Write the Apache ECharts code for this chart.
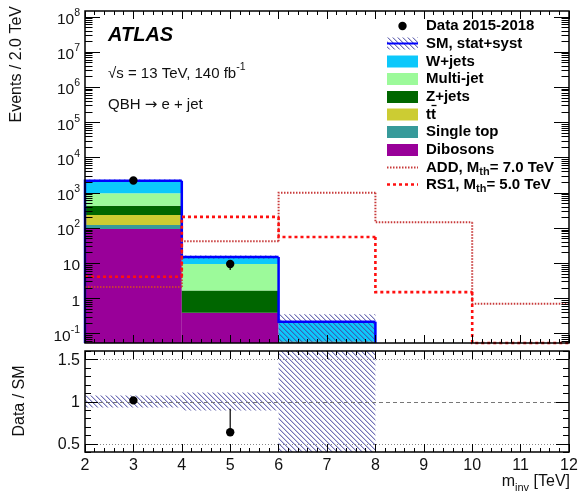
<!DOCTYPE html>
<html>
<head>
<meta charset="utf-8">
<script src="https://cdn.jsdelivr.net/npm/echarts/dist/echarts.min.js"></script>
<style>
  html, body { margin: 0; padding: 0; background: #fff; }
  #chart { width: 587px; height: 492px; }
</style>
</head>
<body>
<div id="chart"></div>
<script>
// ---- binning and axis ranges ----
const binEdges = [2, 4, 6, 8, 10, 12];            // m_inv bin edges [TeV]
const X_MIN = 2, X_MAX = 12;
const Y_MIN = 0.0537, Y_MAX = 1.45e8;             // main panel (log)
const R_MIN = 0.4, R_MAX = 1.6;                   // ratio panel

// ---- background processes, events per bin (stacked bottom -> top) ----
const dibosons  = [93, 0.39, 0, 0, 0];
const singleTop = [27, 0, 0.06, 0, 0];
const ttbar     = [112, 0, 0, 0, 0];
const zJets     = [195, 1.27, 0, 0, 0];
const multiJet  = [533, 7.84, 0, 0, 0];
const wJets     = [1240, 5.3, 0.156, 0, 0];

// total SM uncertainty (stat+syst), absolute
const smErrUp   = [154, 1.6, 0.134, 0, 0];
const smErrDown = [154, 1.6, 0.216, 0, 0];

// ---- data ----
const dataCounts  = [2230, 9.4, 0, 0, 0];
const dataErrUp   = [47, 2.5, 0, 0, 0];
const dataErrDown = [47, 3.0, 0, 0, 0];
const ratioErrUp   = [0.02, 0.28, 0, 0, 0];
const ratioErrDown = [0.02, 0.03, 0, 0, 0];

// ---- signal benchmarks ----
const addSignal = [2.1, 41.6, 1000, 144, 0.7];    // ADD, M_th = 7.0 TeV
const rs1Signal = [4.1, 205, 55, 1.5, 0.02];      // RS1, M_th = 5.0 TeV

// ---- tick labels ----
const xTickValues = [2, 3, 4, 5, 6, 7, 8, 9, 10, 11, 12];
const yLabelValues = [0.1, 1, 10, 100, 1e3, 1e4, 1e5, 1e6, 1e7, 1e8];
const yLabelTexts  = ['10{sup|-1}', '1', '10', '10{sup|2}', '10{sup|3}', '10{sup|4}',
                      '10{sup|5}', '10{sup|6}', '10{sup|7}', '10{sup|8}'];
const rLabelValues = [0.5, 1, 1.5];
const rLabelTexts  = ['0.5', '1', '1.5'];

const FONT = '"Liberation Sans", Arial, Helvetica, sans-serif';
const TXT = '#111';

const COLORS = {
  dibosons: '#990099', singleTop: '#379a9a', ttbar: '#cccc33',
  zJets: '#006600', multiJet: '#9cfa9a', wJets: '#0cc8fb',
  sm: '#0000ff', add: '#c83a3a', rs1: '#ff1010'
};

// diagonal hatch used for the SM uncertainty band
function makeHatch(r, g, b) {
  const c = document.createElement('canvas');
  c.width = 5; c.height = 5;
  const ctx = c.getContext('2d');
  for (let i = 0; i < 5; i++) {
    ctx.fillStyle = `rgba(${r},${g},${b},0.75)`;
    ctx.fillRect(i, i, 1, 1);
    ctx.fillStyle = `rgba(${r},${g},${b},0.3)`;
    ctx.fillRect((i + 1) % 5, i, 1, 1);
  }
  return c;
}
const hatchFill = { image: makeHatch(70, 70, 160), repeat: 'repeat' };

const clampMain = v => Math.min(Math.max(v, Y_MIN), Y_MAX);
const clampR = v => Math.min(Math.max(v, R_MIN), R_MAX);

// ---- stacked backgrounds ----
const processes = [
  { values: dibosons,  color: COLORS.dibosons },
  { values: singleTop, color: COLORS.singleTop },
  { values: ttbar,     color: COLORS.ttbar },
  { values: zJets,     color: COLORS.zJets },
  { values: multiJet,  color: COLORS.multiJet },
  { values: wJets,     color: COLORS.wJets }
];
const cumulative = binEdges.slice(1).map(() => 0);

function boxRenderer(fill, clampFn) {
  return function (params, api) {
    const a = api.coord([api.value(0), clampFn(api.value(1))]);
    const b = api.coord([api.value(2), clampFn(api.value(3))]);
    return {
      type: 'rect',
      shape: { x: a[0], y: b[1], width: b[0] - a[0], height: a[1] - b[1] },
      style: { fill: fill, stroke: null }
    };
  };
}

const stackSeries = processes.map(p => {
  const data = [];
  p.values.forEach((v, i) => {
    if (v > 0) {
      const lo = cumulative[i];
      cumulative[i] += v;
      data.push([binEdges[i], lo > 0 ? lo : Y_MIN, binEdges[i + 1], cumulative[i]]);
    }
  });
  return {
    type: 'custom', xAxisIndex: 0, yAxisIndex: 0,
    encode: { x: [0, 2], y: [1, 3] },
    data: data, renderItem: boxRenderer(p.color, clampMain)
  };
});
const smTotal = cumulative.slice();

// SM uncertainty band (main panel and ratio)
const bandMain = [];
const bandRatio = [];
smTotal.forEach((t, i) => {
  if (t > 0) {
    const lo = t - smErrDown[i], hi = t + smErrUp[i];
    bandMain.push([binEdges[i], lo > 0 ? lo : Y_MIN, binEdges[i + 1], hi]);
    bandRatio.push([binEdges[i], 1 - smErrDown[i] / t, binEdges[i + 1], 1 + smErrUp[i] / t]);
  }
});

// step outlines: [x0, value, x1, previous value]
function stepItems(values, leftFromFloor) {
  return values.map((v, i) => [binEdges[i], v, binEdges[i + 1],
    i === 0 ? (leftFromFloor ? 0 : v) : values[i - 1]]);
}
function stepRenderer(color, width, dash, drawZeroFlat) {
  return function (params, api) {
    const x0 = api.value(0), v = api.value(1), x1 = api.value(2), vp = api.value(3);
    const pts = [api.coord([x0, clampMain(vp)]), api.coord([x0, clampMain(v)])];
    if (v > 0 || drawZeroFlat) pts.push(api.coord([x1, clampMain(v)]));
    return {
      type: 'polyline', shape: { points: pts },
      style: { stroke: color, lineWidth: width, lineDash: dash, fill: null, lineCap: 'butt' }
    };
  };
}

// data points with error bars: [x, y, lo, hi]
function pointRenderer(clampFn) {
  return function (params, api) {
    const c = api.coord([api.value(0), api.value(1)]);
    const lo = api.coord([api.value(0), clampFn(api.value(2))]);
    const hi = api.coord([api.value(0), clampFn(api.value(3))]);
    return {
      type: 'group', children: [
        { type: 'line', shape: { x1: c[0], y1: lo[1], x2: c[0], y2: hi[1] },
          style: { stroke: '#000', lineWidth: 1.2 } },
        { type: 'circle', shape: { cx: c[0], cy: c[1], r: 4.2 }, style: { fill: '#000' } }
      ]
    };
  };
}
const dataMain = [];
const dataRatio = [];
dataCounts.forEach((d, i) => {
  if (d > 0) {
    const xc = (binEdges[i] + binEdges[i + 1]) / 2;
    dataMain.push([xc, d, d - dataErrDown[i], d + dataErrUp[i]]);
    if (smTotal[i] > 0) {
      const r = d / smTotal[i];
      dataRatio.push([xc, r, r - ratioErrDown[i], r + ratioErrUp[i]]);
    }
  }
});

// ---- y-axis ticks (drawn on both vertical frame edges) ----
const mainTicks = [];
for (let e = -2; e <= 8; e++) {
  for (let k = 1; k <= 9; k++) {
    const v = k * Math.pow(10, e);
    if (v >= Y_MIN && v <= Y_MAX) mainTicks.push([X_MIN, v, k === 1 ? 1 : 0]);
  }
}
const ratioTicks = [];
for (let i = 4; i <= 16; i++) ratioTicks.push([X_MIN, i / 10, i % 5 === 0 ? 1 : 0]);

function tickRenderer(majorLen, minorLen) {
  return function (params, api) {
    const v = api.value(1);
    const len = api.value(2) === 1 ? majorLen : minorLen;
    const l = api.coord([X_MIN, v]), r = api.coord([X_MAX, v]);
    const y = Math.round(l[1]) + 0.5;
    return {
      type: 'group', children: [
        { type: 'line', shape: { x1: l[0], y1: y, x2: l[0] + len, y2: y },
          style: { stroke: '#000', lineWidth: 1 } },
        { type: 'line', shape: { x1: r[0] - len, y1: y, x2: r[0], y2: y },
          style: { stroke: '#000', lineWidth: 1 } }
      ]
    };
  };
}
function labelRenderer(texts, dy, size) {
  return function (params, api) {
    const p = api.coord([X_MIN, api.value(1)]);
    return {
      type: 'text', x: p[0] - 5, y: p[1] + dy,
      style: {
        text: texts[api.value(2)], fill: TXT, fontSize: size, fontFamily: FONT,
        align: 'right', verticalAlign: 'middle', lineHeight: 24,
        rich: { sup: { fontSize: 10.5, lineHeight: 11, verticalAlign: 'top', fill: TXT, fontFamily: FONT } }
      }
    };
  };
}

// ratio reference lines: [x, y, kind]  (kind 0 = dotted, 1 = dashed)
const ratioGuides = [[X_MIN, 0.5, 0], [X_MIN, 1, 1], [X_MIN, 1.5, 0]];

// ---- axes ----
function xAxisDef(grid, pos, labels) {
  return {
    type: 'value', gridIndex: grid, position: pos, min: X_MIN, max: X_MAX, interval: 1, z: 10,
    axisLine: { show: false },
    axisTick: { show: true, inside: true, length: 8, lineStyle: { color: '#000', width: 1 } },
    minorTick: { show: true, splitNumber: 5, length: 4, lineStyle: { color: '#000', width: 1 } },
    splitLine: { show: false }, minorSplitLine: { show: false },
    axisLabel: labels ? {
      show: true, fontSize: 16, color: TXT, fontFamily: FONT, margin: 6,
      showMinLabel: true, showMaxLabel: true,
      formatter: v => xTickValues.indexOf(v) >= 0 ? String(v) : ''
    } : { show: false }
  };
}

const option = {
  animation: false,
  backgroundColor: '#fff',
  textStyle: { fontFamily: FONT },
  grid: [
    { left: 85, top: 11, width: 484, height: 332, show: true, z: 10,
      backgroundColor: 'transparent', borderColor: '#000', borderWidth: 1.5 },
    { left: 85, top: 351, width: 484, height: 101, show: true, z: 10,
      backgroundColor: 'transparent', borderColor: '#000', borderWidth: 1.5 }
  ],
  xAxis: [xAxisDef(0, 'bottom', false), xAxisDef(0, 'top', false),
          xAxisDef(1, 'bottom', true), xAxisDef(1, 'top', false)],
  yAxis: [
    { type: 'log', logBase: 10, gridIndex: 0, min: Y_MIN, max: Y_MAX,
      axisLine: { show: false }, axisTick: { show: false }, axisLabel: { show: false },
      splitLine: { show: false } },
    { type: 'value', gridIndex: 1, min: R_MIN, max: R_MAX,
      axisLine: { show: false }, axisTick: { show: false }, axisLabel: { show: false },
      splitLine: { show: false } }
  ],
  series: [
    ...stackSeries,
    { type: 'custom', xAxisIndex: 0, yAxisIndex: 0, encode: { x: [0, 2], y: [1, 3] },
      data: bandMain, renderItem: boxRenderer(hatchFill, clampMain) },
    { type: 'custom', xAxisIndex: 0, yAxisIndex: 0, encode: { x: [0, 2], y: [1, 3] },
      data: stepItems(smTotal, true), renderItem: stepRenderer(COLORS.sm, 2.5, null, false) },
    { type: 'custom', xAxisIndex: 0, yAxisIndex: 0, encode: { x: [0, 2], y: [1, 3] },
      data: stepItems(addSignal, false), renderItem: stepRenderer(COLORS.add, 2, [1.5, 1.5], true) },
    { type: 'custom', xAxisIndex: 0, yAxisIndex: 0, encode: { x: [0, 2], y: [1, 3] },
      data: stepItems(rs1Signal, false), renderItem: stepRenderer(COLORS.rs1, 2.6, [3, 3], true) },
    { type: 'custom', xAxisIndex: 0, yAxisIndex: 0, encode: { x: 0, y: 1 },
      data: dataMain, renderItem: pointRenderer(clampMain) },
    { type: 'custom', xAxisIndex: 0, yAxisIndex: 0, encode: { x: 0, y: 1 },
      data: mainTicks, renderItem: tickRenderer(15, 7.5) },
    { type: 'custom', xAxisIndex: 0, yAxisIndex: 0, encode: { x: 0, y: 1 },
      data: yLabelValues.map((v, i) => [X_MIN, v, i]), renderItem: labelRenderer(yLabelTexts, 3, 15.5) },

    // ratio panel
    { type: 'custom', xAxisIndex: 2, yAxisIndex: 1, encode: { x: [0, 2], y: [1, 3] },
      data: bandRatio, renderItem: boxRenderer(hatchFill, clampR) },
    { type: 'custom', xAxisIndex: 2, yAxisIndex: 1, encode: { x: 0, y: 1 },
      data: ratioGuides,
      renderItem: function (params, api) {
        const a = api.coord([X_MIN, api.value(1)]), b = api.coord([X_MAX, api.value(1)]);
        const dashed = api.value(2) === 1;
        const y = Math.round(a[1]) + 0.5;
        return { type: 'line', shape: { x1: a[0], y1: y, x2: b[0], y2: y },
          style: { stroke: dashed ? '#777' : '#888', lineWidth: dashed ? 1.2 : 1,
                   lineDash: dashed ? [4, 3] : [1, 2] } };
      } },
    { type: 'custom', xAxisIndex: 2, yAxisIndex: 1, encode: { x: 0, y: 1 },
      data: dataRatio, renderItem: pointRenderer(clampR) },
    { type: 'custom', xAxisIndex: 2, yAxisIndex: 1, encode: { x: 0, y: 1 },
      data: ratioTicks, renderItem: tickRenderer(13, 6) },
    { type: 'custom', xAxisIndex: 2, yAxisIndex: 1, encode: { x: 0, y: 1 },
      data: rLabelValues.map((v, i) => [X_MIN, v, i]), renderItem: labelRenderer(rLabelTexts, 1, 16) }
  ],
  graphic: []
};

// ---- annotations, titles and legend ----
const g = option.graphic;
const subRich = { sub: { fontSize: 11, lineHeight: 10, verticalAlign: 'bottom', fill: TXT, fontFamily: FONT, fontWeight: 'bold' } };

g.push({ type: 'text', x: 17, y: 6, rotation: Math.PI / 2,
  style: { text: 'Events / 2.0 TeV', fill: TXT, font: '16px ' + FONT, align: 'right', verticalAlign: 'middle' } });
g.push({ type: 'text', x: 20, y: 401, rotation: Math.PI / 2,
  style: { text: 'Data / SM', fill: TXT, font: '16px ' + FONT, align: 'center', verticalAlign: 'middle' } });
g.push({ type: 'text', x: 570, y: 482,
  style: { text: 'm{sub|inv} [TeV]', fill: TXT, fontSize: 16, fontFamily: FONT, lineHeight: 22,
           align: 'right', verticalAlign: 'middle',
           rich: { sub: { fontSize: 11, lineHeight: 10, verticalAlign: 'bottom', fill: TXT, fontFamily: FONT } } } });

g.push({ type: 'text', x: 108, y: 35,
  style: { text: 'ATLAS', fill: '#000', font: 'italic bold 20px ' + FONT, align: 'left', verticalAlign: 'middle' } });
g.push({ type: 'text', x: 108, y: 74,
  style: { text: '√s = 13 TeV, 140 fb{sup|-1}', fill: TXT, fontSize: 15, fontFamily: FONT, lineHeight: 24,
           align: 'left', verticalAlign: 'middle',
           rich: { sup: { fontSize: 10.5, lineHeight: 11, verticalAlign: 'top', fill: TXT, fontFamily: FONT } } } });
g.push({ type: 'text', x: 108, y: 105,
  style: { text: 'QBH {arr|→} e + jet', fill: TXT, fontSize: 15, fontFamily: FONT, lineHeight: 20,
           align: 'left', verticalAlign: 'middle',
           rich: { arr: { fontSize: 15, lineHeight: 20, fill: TXT, fontFamily: '"DejaVu Sans"' } } } });

const LX0 = 387, LX1 = 418, LT = 426;
const legendRows = [
  { y: 26,    text: 'Data 2015-2018', kind: 'data' },
  { y: 43.5,  text: 'SM, stat+syst', kind: 'band' },
  { y: 61.5,  text: 'W+jets', kind: 'box', color: COLORS.wJets },
  { y: 79,    text: 'Multi-jet', kind: 'box', color: COLORS.multiJet },
  { y: 97,    text: 'Z+jets', kind: 'box', color: COLORS.zJets },
  { y: 114.5, text: 'tt', kind: 'box', color: COLORS.ttbar, bar: true },
  { y: 132,   text: 'Single top', kind: 'box', color: COLORS.singleTop },
  { y: 150,   text: 'Dibosons', kind: 'box', color: COLORS.dibosons },
  { y: 167.5, text: 'ADD, M{sub|th}= 7.0 TeV', kind: 'line', color: COLORS.add, width: 2, dash: [1.5, 1.5] },
  { y: 184.5, text: 'RS1, M{sub|th}= 5.0 TeV', kind: 'line', color: COLORS.rs1, width: 2.6, dash: [3, 3] }
];
legendRows.forEach(r => {
  if (r.kind === 'data') {
    g.push({ type: 'circle', shape: { cx: (LX0 + LX1) / 2, cy: r.y, r: 4.2 }, style: { fill: '#000' } });
  } else if (r.kind === 'band') {
    g.push({ type: 'rect', shape: { x: LX0, y: r.y - 6, width: LX1 - LX0, height: 12 }, style: { fill: hatchFill } });
    g.push({ type: 'line', shape: { x1: LX0, y1: r.y, x2: LX1, y2: r.y }, style: { stroke: COLORS.sm, lineWidth: 2 } });
  } else if (r.kind === 'box') {
    g.push({ type: 'rect', shape: { x: LX0, y: r.y - 6, width: LX1 - LX0, height: 12 }, style: { fill: r.color } });
  } else {
    g.push({ type: 'line', shape: { x1: LX0, y1: r.y, x2: LX1, y2: r.y },
      style: { stroke: r.color, lineWidth: r.width, lineDash: r.dash } });
  }
  g.push({ type: 'text', x: LT, y: r.y,
    style: { text: r.text, fill: '#000', fontSize: 15, fontWeight: 'bold', fontFamily: FONT, lineHeight: 20,
             align: 'left', verticalAlign: 'middle', rich: subRich } });
  if (r.bar) {
    g.push({ type: 'line', shape: { x1: 431.5, y1: r.y - 9, x2: 436.5, y2: r.y - 9 },
      style: { stroke: '#000', lineWidth: 1.3 } });
  }
});

const chart = echarts.init(document.getElementById('chart'), null, { renderer: 'canvas' });
chart.setOption(option);
</script>
</body>
</html>
